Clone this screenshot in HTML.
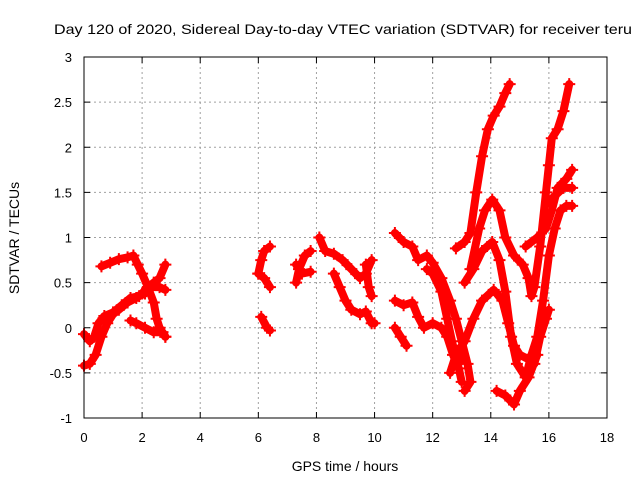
<!DOCTYPE html>
<html><head><meta charset="utf-8"><style>
body{margin:0;background:#fff}
svg{display:block;font-family:"Liberation Sans",sans-serif}
</style></head><body>
<svg id="chart" width="640" height="480" viewBox="0 0 640 480">
<rect width="640" height="480" fill="#fff"/>
<text x="54" y="34" font-size="14" textLength="578" lengthAdjust="spacingAndGlyphs" fill="#000">Day 120 of 2020, Sidereal Day-to-day VTEC variation (SDTVAR) for receiver teru</text>
<g id="grid"></g>
<g id="series"></g>
<rect x="84" y="57" width="523" height="361" fill="none" stroke="#000" stroke-width="1"/>
<g id="ticks"></g>
<text x="345" y="471" font-size="14" text-anchor="middle">GPS time / hours</text>
<text x="19" y="238" font-size="14" text-anchor="middle" transform="rotate(-90 19 238)">SDTVAR / TECUs</text>
</svg>
<script>
const xTicks=[0,2,4,6,8,10,12,14,16,18];
const yTicks=[-1,-0.5,0,0.5,1,1.5,2,2.5,3];
const yTickLabels=["-1","-0.5","0","0.5","1","1.5","2","2.5","3"];
const track1=[[0,-0.42],[0.2,-0.4],[0.4,-0.3],[0.6,-0.1],[0.8,0.05],[1.0,0.15],[1.2,0.2],[1.5,0.28],[1.8,0.33],[2.0,0.38],[2.2,0.45],[2.4,0.5],[2.6,0.55],[2.8,0.7]];
const track2=[[0,-0.07],[0.2,-0.15],[0.35,-0.1],[0.5,0.05],[0.7,0.13],[1.0,0.17],[1.3,0.25],[1.6,0.33],[1.9,0.35],[2.1,0.38],[2.3,0.45],[2.6,0.45],[2.8,0.42]];
const track3=[[0.6,0.68],[0.9,0.72],[1.2,0.76],[1.5,0.78],[1.7,0.8],[1.85,0.7],[2.0,0.6],[2.2,0.45],[2.4,0.28],[2.5,0.1],[2.6,0.0],[2.7,-0.05],[2.8,-0.1]];
const track4=[[1.6,0.08],[1.8,0.05],[2.1,0.0],[2.4,-0.05],[2.7,-0.05],[2.8,-0.1]];
const track5=[[6.0,0.6],[6.1,0.75],[6.2,0.85],[6.4,0.9]];
const track6=[[6.0,0.6],[6.2,0.55],[6.4,0.45]];
const track7=[[6.1,0.12],[6.3,0.0],[6.4,-0.03]];
const track8=[[7.3,0.5],[7.4,0.65],[7.6,0.8],[7.8,0.85]];
const track9=[[7.3,0.7],[7.5,0.6],[7.8,0.62]];
const track10=[[8.1,1.0],[8.3,0.85],[8.6,0.82],[8.9,0.75],[9.2,0.65],[9.5,0.55],[9.7,0.6],[9.9,0.75]];
const track11=[[8.6,0.6],[8.8,0.45],[9.0,0.3],[9.2,0.2],[9.5,0.15],[9.7,0.18],[9.9,0.05],[10.0,0.05]];
const track12=[[9.7,0.7],[9.8,0.45],[9.9,0.35]];
const track13=[[10.7,1.05],[11.0,0.95],[11.3,0.9],[11.5,0.75],[11.8,0.8],[12.0,0.72],[12.3,0.55],[12.6,0.3],[12.8,0.1],[13.0,-0.15],[13.2,-0.4],[13.3,-0.6],[13.1,-0.7]];
const track14=[[12.8,0.88],[13.1,0.95],[13.3,1.05],[13.5,1.5],[13.7,1.9],[13.9,2.2],[14.1,2.35],[14.3,2.45],[14.5,2.6],[14.65,2.7]];
const track15=[[11.8,0.65],[12.0,0.6],[12.3,0.4],[12.5,0.1],[12.7,-0.2],[13.0,-0.35]];
const track16=[[13.3,0.65],[13.6,1.1],[13.8,1.3],[14.05,1.42],[14.3,1.3],[14.5,1.0],[14.8,0.8],[15.1,0.7],[15.3,0.55],[15.4,0.35],[15.5,0.45],[15.7,0.9],[15.9,1.5],[16.0,1.8],[16.1,2.1],[16.3,2.2],[16.5,2.4],[16.7,2.7]];
const track17=[[13.1,0.5],[13.4,0.65],[13.7,0.85],[14.05,0.95],[14.3,0.75],[14.5,0.4],[14.7,-0.1],[14.9,-0.4],[15.2,-0.55],[15.4,-0.3],[15.6,-0.1],[15.8,0.3],[16.0,0.8],[16.2,1.1],[16.4,1.3],[16.6,1.35],[16.8,1.35]];
const track18=[[12.6,-0.5],[12.8,-0.3],[13.1,-0.15],[13.4,0.1],[13.7,0.3],[14.1,0.42],[14.4,0.3],[14.6,0.05],[14.8,-0.2],[15.0,-0.3],[15.3,-0.35],[15.5,-0.4],[15.7,-0.1],[15.9,0.1],[16.0,0.2]];
const track19=[[14.2,-0.7],[14.5,-0.75],[14.8,-0.85],[15.0,-0.7],[15.3,-0.55],[15.6,-0.3]];
const track20=[[15.2,0.9],[15.6,1.0],[15.9,1.1],[16.1,1.3],[16.3,1.55],[16.6,1.65],[16.8,1.75]];
const track21=[[16.0,1.4],[16.5,1.55],[16.8,1.55]];
const track22=[[10.7,0.3],[11.0,0.25],[11.3,0.28],[11.5,0.12],[11.7,0.0],[12.0,0.05],[12.3,0.0],[12.5,-0.1],[12.7,-0.3],[12.9,-0.45],[13.0,-0.6]];
const track23=[[10.7,0.0],[10.9,-0.1],[11.1,-0.2]];
const tracks=[track1,track2,track3,track4,track5,track6,track7,track8,track9,track10,track11,track12,track13,track14,track15,track16,track17,track18,track19,track20,track21,track22,track23];

const NS="http://www.w3.org/2000/svg";
const X0=84,X1=607,Y0=418,Y1=57;
function xs(h){return X0+(h-0)/(18-0)*(X1-X0);}
function ys(v){return Y0-(v+1)/(3+1)*(Y0-Y1);}
function mk(tag,attrs,parent){const e=document.createElementNS(NS,tag);for(const k in attrs)e.setAttribute(k,attrs[k]);parent.appendChild(e);return e;}
const grid=document.getElementById('grid'),ticks=document.getElementById('ticks'),ser=document.getElementById('series');
xTicks.forEach(t=>{const x=xs(t);
 if(t>0&&t<18){const l=mk('line',{x1:x,x2:x,y1:Y1,y2:Y0,stroke:'#a0a0a0','stroke-dasharray':'2,3'},grid);
 
 }
 mk('line',{x1:x,x2:x,y1:Y0,y2:Y0-6,stroke:'#000'},ticks);
 mk('line',{x1:x,x2:x,y1:Y1,y2:Y1+6,stroke:'#000'},ticks);
 const tx=mk('text',{x:x,y:442,'font-size':13,'text-anchor':'middle'},ticks);tx.textContent=t;
 
 
});
yTicks.forEach((t,i)=>{const y=ys(t);
 if(t>-1&&t<3){const l=mk('line',{x1:X0,x2:X1,y1:y,y2:y,stroke:'#a0a0a0','stroke-dasharray':'2,3'},grid);
 
 }
 mk('line',{x1:X0,x2:X0+6,y1:y,y2:y,stroke:'#000'},ticks);
 mk('line',{x1:X1,x2:X1-6,y1:y,y2:y,stroke:'#000'},ticks);
 const tx=mk('text',{x:72,y:y+5,'font-size':13,'text-anchor':'end'},ticks);tx.textContent=yTickLabels[i];
 
 
});
tracks.forEach(tr=>{
 const pl=mk('polyline',{points:tr.map(p=>xs(p[0])+','+ys(p[1])).join(' '),fill:'none',stroke:'#ff0000','stroke-width':8,'stroke-linejoin':'round','stroke-linecap':'round'},ser);
 
 
 tr.forEach(p=>{const x=xs(p[0]),y=ys(p[1]);
  const m=mk('path',{d:`M${x-6},${y}H${x+6}M${x},${y-6}V${y+6}`,stroke:'#ff0000','stroke-width':2},ser);
  
  
 });
});
</script>
</body></html>
